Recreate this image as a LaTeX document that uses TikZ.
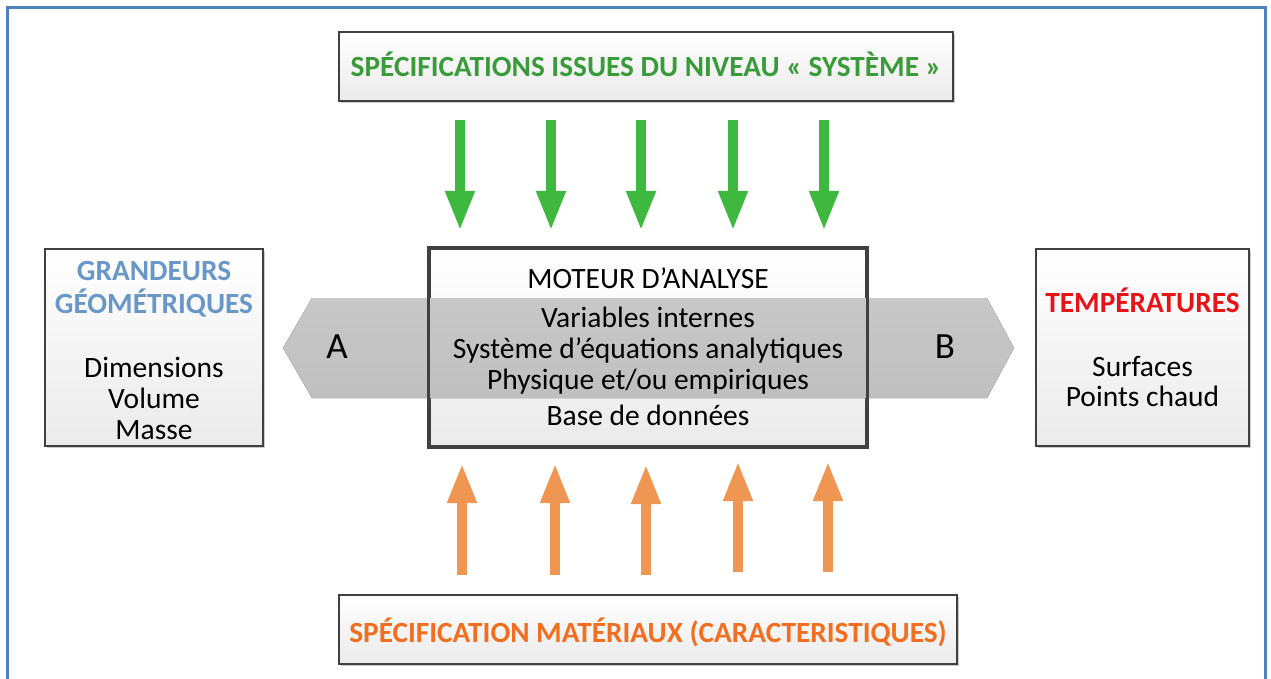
\documentclass[tikz,border=0pt]{standalone}
\usepackage{fontspec}
\setmainfont{Carlito}
\usetikzlibrary{shadows,arrows.meta}
\definecolor{frameblue}{RGB}{79,129,189}
\definecolor{boxborder}{RGB}{64,64,64}
\definecolor{titlegreen}{RGB}{58,155,58}
\definecolor{titleorange}{RGB}{242,110,32}
\definecolor{geoblue}{RGB}{105,152,200}
\definecolor{tempred}{RGB}{228,20,24}
\definecolor{arrgreen}{RGB}{62,184,62}
\definecolor{arrorange}{RGB}{238,150,82}
\definecolor{bandtop}{RGB}{216,216,216}
\definecolor{bandbot}{RGB}{206,206,206}
\tikzset{
  boxstyle/.style={draw=boxborder, line width=2.6pt, top color=white, bottom color=black!8,
    drop shadow={shadow xshift=2pt, shadow yshift=-2pt, opacity=0.35, fill=black!60}, inner sep=0pt},
  txt/.style={anchor=base, inner sep=0pt, font=\fontsize{29.5}{33}\selectfont},
  btxt/.style={anchor=base, inner sep=0pt, font=\fontsize{29.3}{33}\selectfont\bfseries},
  garrow/.style={draw=arrgreen, line width=10pt, -{Triangle[width=27pt,length=40pt]}},
  oarrow/.style={draw=arrorange, line width=10pt, -{Triangle[width=27pt,length=40pt]}},
}
\begin{document}
\begin{tikzpicture}[x=1pt,y=-1pt]
\useasboundingbox (0,0) rectangle (1271,679);
% outer frame
\draw[frameblue, line width=3pt] (7,690) -- (7,8) -- (1265,8) -- (1265,690);

% boxes
\node[boxstyle, minimum width=614pt, minimum height=69pt] (top) at (646,66.5) {};
\node[boxstyle, minimum width=618pt, minimum height=69pt] (bot) at (648,629.5) {};
\node[boxstyle, minimum width=218pt, minimum height=197pt] (left) at (154,347.5) {};
\node[boxstyle, minimum width=213pt, minimum height=197pt] (right) at (1142.5,347.5) {};
\node[boxstyle, minimum width=436pt, minimum height=197pt] (mid) at (648,347.5) {};

% band (double-pointed gray arrow)
\fill[top color=bandtop, bottom color=bandbot, opacity=0.92]
  (283,348) -- (312,298) -- (987,298) -- (1014,348) -- (987,398) -- (312,398) -- cycle;
% redraw centre box border over band
\draw[boxborder, line width=2.6pt] (mid.north west) rectangle (mid.south east);

% texts
\node[btxt, text=titlegreen] (toptxt) at (646,77) {SPÉCIFICATIONS ISSUES DU NIVEAU « SYSTÈME »};
\node[btxt, text=titleorange] (bottxt) at (648,642) {SPÉCIFICATION MATÉRIAUX (CARACTERISTIQUES)};

\node[btxt, text=geoblue] (g1) at (154,280) {GRANDEURS};
\node[btxt, text=geoblue] (g2) at (154,313) {GÉOMÉTRIQUES};
\node[txt] (g3) at (154,377) {Dimensions};
\node[txt] (g4) at (154,408) {Volume};
\node[txt] (g5) at (154,439) {Masse};

\node[btxt, text=tempred] (t1) at (1142.5,312) {TEMPÉRATURES};
\node[txt] (t2) at (1142.5,376) {Surfaces};
\node[txt] (t3) at (1142.5,406) {Points chaud};

\node[txt] (m1) at (648,288) {MOTEUR D’ANALYSE};
\node[txt] (m2) at (648,327) {Variables internes};
\node[txt] (m3) at (648,358) {Système d’équations analytiques};
\node[txt] (m4) at (648,389) {Physique et/ou empiriques};
\node[txt] (m5) at (648,425) {Base de données};

\node[anchor=base, inner sep=0pt, font=\fontsize{37}{40}\selectfont] (la) at (337,358) {A};
\node[anchor=base, inner sep=0pt, font=\fontsize{37}{40}\selectfont] (lb) at (945,358) {B};

% green arrows
\foreach \i/\x in {1/460,2/551,3/641,4/733,5/824}{
  \coordinate (gs\i) at (\x,120);
  \coordinate (ge\i) at (\x,231);
  \draw[garrow] (gs\i) -- (ge\i);
}
% orange arrows
\foreach \i/\x/\yt/\yb in {1/462/463/575,2/555/463/575,3/646/464/575,4/738/461/572,5/828/461/572}{
  \coordinate (os\i) at (\x,\yb);
  \coordinate (oe\i) at (\x,\yt);
  \draw[oarrow] (os\i) -- (oe\i);
}
\end{tikzpicture}
\end{document}
